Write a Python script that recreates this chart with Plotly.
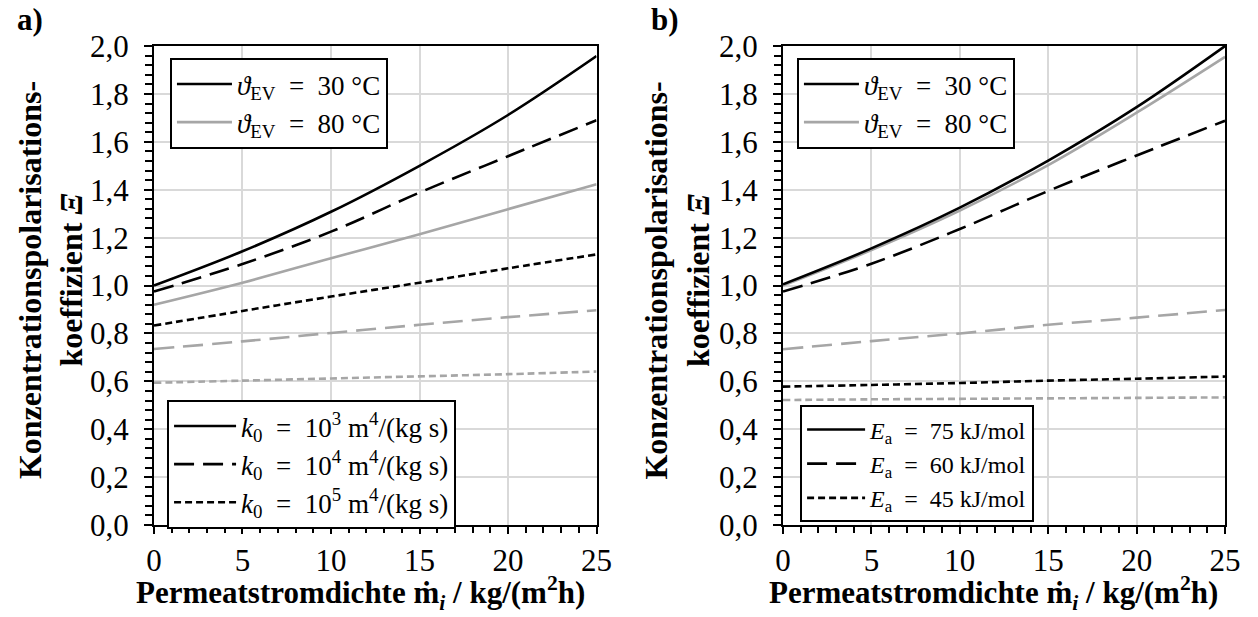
import plotly.graph_objects as go

# ---------------- data ----------------
flux = [0, 5, 10, 15, 20, 25]  # kg/(m2 h)

# panel a: k0 variation
a_k3_30 = [1.000, 1.143, 1.308, 1.500, 1.712, 1.958]
a_k4_30 = [0.975, 1.090, 1.225, 1.388, 1.540, 1.690]
a_k5_30 = [0.833, 0.894, 0.954, 1.012, 1.072, 1.130]
a_k3_80 = [0.920, 1.012, 1.114, 1.214, 1.319, 1.423]
a_k4_80 = [0.735, 0.767, 0.802, 0.836, 0.868, 0.897]
a_k5_80 = [0.594, 0.603, 0.612, 0.621, 0.630, 0.641]

# panel b: Ea variation
b_e75_30 = [1.005, 1.155, 1.325, 1.522, 1.745, 2.000]
b_e75_80 = [1.000, 1.148, 1.313, 1.503, 1.722, 1.955]
b_e60_30 = [0.975, 1.091, 1.236, 1.395, 1.543, 1.688]
b_e60_80 = [0.734, 0.768, 0.800, 0.836, 0.866, 0.898]
b_e45_30 = [0.578, 0.585, 0.593, 0.603, 0.611, 0.620]
b_e45_80 = [0.522, 0.525, 0.527, 0.529, 0.531, 0.533]

y_ticks = [0.0, 0.2, 0.4, 0.6, 0.8, 1.0, 1.2, 1.4, 1.6, 1.8, 2.0]
x_ticks = [0, 5, 10, 15, 20, 25]

EN = "\u2002"
temp_labels = [f"<i>ϑ</i><sub>EV</sub>{EN}={EN}30 °C", f"<i>ϑ</i><sub>EV</sub>{EN}={EN}80 °C"]
k0_labels = [f"<i>k</i><sub>0</sub>{EN}={EN}10<sup>3</sup> m<sup>4</sup>/(kg s)",
             f"<i>k</i><sub>0</sub>{EN}={EN}10<sup>4</sup> m<sup>4</sup>/(kg s)",
             f"<i>k</i><sub>0</sub>{EN}={EN}10<sup>5</sup> m<sup>4</sup>/(kg s)"]
ea_labels = [f"<i>E</i><sub>a</sub>{EN}={EN}75 kJ/mol",
             f"<i>E</i><sub>a</sub>{EN}={EN}60 kJ/mol",
             f"<i>E</i><sub>a</sub>{EN}={EN}45 kJ/mol"]
x_title = "<b>Permeatstromdichte ṁ<sub><i>i</i></sub> / kg/(m<sup>2</sup>h)</b>"
y_title = "<b>Konzentrationspolarisations-<br>koeffizient <i>Ξ</i></b>"

# ---------------- styles ----------------
BLACK = "black"
GRAY = "#a6a6a6"
SOLID = "solid"
DASH = "20px,9px"
SDASH = "7px,4px"
LW = 2.6
SERIF = "Liberation Serif, Times New Roman, serif"

fig = go.Figure()

def add(x, y, color, dash, xa, ya):
    fig.add_trace(go.Scatter(x=x, y=y, mode="lines", showlegend=False,
                             line=dict(color=color, dash=dash, width=LW, shape="spline"),
                             xaxis=xa, yaxis=ya, hoverinfo="skip"))

# panel a
add(flux, a_k5_80, GRAY, SDASH, "x", "y")
add(flux, a_k4_80, GRAY, DASH, "x", "y")
add(flux, a_k3_80, GRAY, SOLID, "x", "y")
add(flux, a_k5_30, BLACK, SDASH, "x", "y")
add(flux, a_k4_30, BLACK, DASH, "x", "y")
add(flux, a_k3_30, BLACK, SOLID, "x", "y")
# panel b
add(flux, b_e45_80, GRAY, SDASH, "x2", "y2")
add(flux, b_e60_80, GRAY, DASH, "x2", "y2")
add(flux, b_e75_80, GRAY, SOLID, "x2", "y2")
add(flux, b_e45_30, BLACK, SDASH, "x2", "y2")
add(flux, b_e60_30, BLACK, DASH, "x2", "y2")
add(flux, b_e75_30, BLACK, SOLID, "x2", "y2")

# legend entries (no data)
def leg(name, color, dash, legend, xa, ya):
    fig.add_trace(go.Scatter(x=[None], y=[None], mode="lines", name=name,
                             line=dict(color=color, dash=dash, width=LW),
                             legend=legend, xaxis=xa, yaxis=ya))

leg(temp_labels[0], BLACK, SOLID, "legend", "x", "y")
leg(temp_labels[1], GRAY, SOLID, "legend", "x", "y")
for lab, d in zip(k0_labels, [SOLID, DASH, SDASH]):
    leg(lab, BLACK, d, "legend2", "x", "y")
leg(temp_labels[0], BLACK, SOLID, "legend3", "x2", "y2")
leg(temp_labels[1], GRAY, SOLID, "legend3", "x2", "y2")
for lab, d in zip(ea_labels, [SOLID, DASH, SDASH]):
    leg(lab, BLACK, d, "legend4", "x2", "y2")

XD_A = [0.1224, 0.4742]
XD_B = [0.6224, 0.9738]
YD = [0.149, 0.9254]
TICKF = dict(family=SERIF, size=31, color="black")

def xax(domain, anchor):
    return dict(domain=domain, anchor=anchor, range=[0, 25], tickvals=x_ticks,
                automargin=False,
                ticks="outside", ticklen=7, tickwidth=2, tickcolor="black",
                showline=True, linecolor="black", linewidth=2, mirror=True,
                showgrid=True, gridcolor="#d9d9d9", gridwidth=2, zeroline=False,
                tickfont=TICKF,
                minor=dict(dtick=1, ticks="outside", ticklen=6, tickwidth=1.5,
                           tickcolor="black", showgrid=False))

def yax(domain, anchor):
    return dict(domain=domain, anchor=anchor, range=[0, 2.0], tickvals=y_ticks,
                tickformat=".1f", automargin=False,
                ticks="outside", ticklen=8, tickwidth=2, tickcolor="black",
                showline=True, linecolor="black", linewidth=2, mirror=True,
                showgrid=True, gridcolor="#d9d9d9", gridwidth=2, zeroline=False,
                tickfont=TICKF, ticklabelstandoff=9,
                minor=dict(dtick=0.04, ticks="outside", ticklen=7, tickwidth=1.5,
                           tickcolor="black", showgrid=False))

def inner_x(over, anchor):
    return dict(overlaying=over, anchor=anchor, range=[0, 25], tickvals=x_ticks,
                automargin=False,
                ticks="inside", ticklen=8, tickwidth=2, tickcolor="black",
                showticklabels=False, showgrid=False, showline=False, zeroline=False)

def inner_y(over, anchor):
    return dict(overlaying=over, anchor=anchor, range=[0, 2.0], tickvals=y_ticks,
                automargin=False,
                ticks="inside", ticklen=8, tickwidth=2, tickcolor="black",
                showticklabels=False, showgrid=False, showline=False, zeroline=False)

def legend_box(x, y, iw, fs):
    return dict(x=x, y=y, xanchor="left", yanchor="top", bgcolor="white",
                bordercolor="black", borderwidth=2,
                font=dict(family=SERIF, size=fs, color="black"),
                itemwidth=iw, tracegroupgap=0)

def text_ann(text, x, y, size, angle=0, xanchor="center", yanchor="middle"):
    return dict(text=text, x=x, y=y, xref="paper", yref="paper",
                xanchor=xanchor, yanchor=yanchor, showarrow=False, textangle=angle,
                font=dict(family=SERIF, size=size, color="black"))

fig.update_layout(
    width=1258, height=617,
    margin=dict(l=0, r=0, t=0, b=0, autoexpand=False),
    paper_bgcolor="white", plot_bgcolor="white",
    separators=",.",
    xaxis=xax(XD_A, "y"), yaxis=yax(YD, "x"),
    xaxis2=xax(XD_B, "y2"), yaxis2=yax(YD, "x2"),
    xaxis3=inner_x("x", "y"), yaxis3=inner_y("y", "x"),
    xaxis4=inner_x("x2", "y2"), yaxis4=inner_y("y2", "x2"),
    legend=legend_box(0.1351, 0.906, 55, 27),
    legend2=legend_box(0.1328, 0.3517, 62, 27),
    legend3=legend_box(0.6335, 0.906, 55, 27),
    legend4=legend_box(0.636, 0.343, 58, 24),
    annotations=[
        text_ann("<b>a)</b>", 0.012, 1.0, 31, xanchor="left", yanchor="top"),
        text_ann("<b>b)</b>", 0.516, 1.0, 31, xanchor="left", yanchor="top"),
        text_ann(x_title, 0.2862, 0.0395, 31),
        text_ann(x_title, 0.790, 0.0395, 31),
        text_ann(y_title, 0.0405, 0.546, 32, angle=-90),
        text_ann(y_title, 0.5385, 0.546, 32, angle=-90),
    ],
)

fig.write_html("out.html")
